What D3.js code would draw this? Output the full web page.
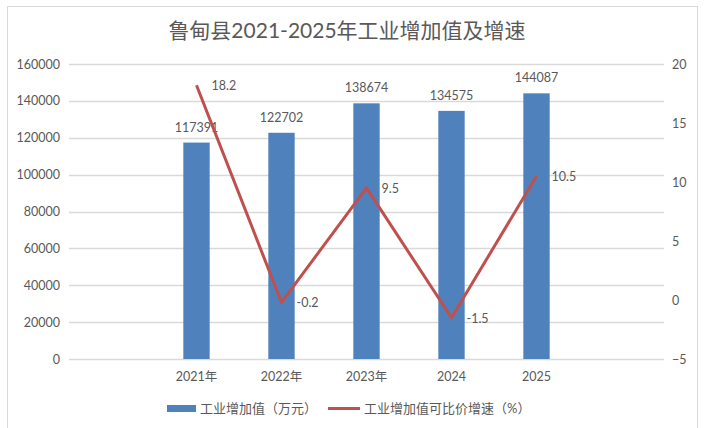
<!DOCTYPE html>
<html>
<head>
<meta charset="utf-8">
<script src="https://cdn.jsdelivr.net/npm/d3@7"></script>
<style>
  body { margin: 0; background: #fff; }
  text { font-family: Lato, "Noto Sans CJK SC", sans-serif; fill: #595959; }
</style>
</head>
<body>
<div id="chart"></div>
<script>
// Data
const years = ["2021年", "2022年", "2023年", "2024", "2025"];
const addedValue = [117391, 122702, 138674, 134575, 144087];
const growthRate = [18.2, -0.2, 9.5, -1.5, 10.5];
const leftTicks = [0, 20000, 40000, 60000, 80000, 100000, 120000, 140000, 160000];
const rightTicks = [-5, 0, 5, 10, 15, 20];

const W = 713, H = 428;
const plot = { left: 69, right: 664, top: 64, bottom: 359 };
const barColor = "#4F81BD", lineColor = "#C0504D";

const svg = d3.select("#chart").append("svg")
    .attr("width", W)
    .attr("height", H);

// Outer chart border
svg.append("rect")
    .attr("x", 7.5).attr("y", 6.5)
    .attr("width", 690).attr("height", 430)
    .attr("fill", "#fff")
    .attr("stroke", "#d9d9d9");

// Title
svg.append("text")
    .attr("x", 347)
    .attr("y", 38)
    .attr("text-anchor", "middle")
    .style("font-size", "21px")
    .text("鲁甸县2021-2025年工业增加值及增速");

// Scales: 7 slots, first and last are empty
const slot = (plot.right - plot.left) / 7;
const x = d3.scaleBand()
    .domain(years)
    .range([plot.left + slot, plot.right - slot])
    .paddingInner(0.69)
    .paddingOuter(0.345);

const yL = d3.scaleLinear().domain([0, 160000]).range([plot.bottom, plot.top]);
const yR = d3.scaleLinear().domain([-5, 20]).range([plot.bottom, plot.top]);

// Gridlines
svg.append("g")
    .selectAll("line")
    .data(leftTicks)
    .join("line")
    .attr("x1", plot.left).attr("x2", plot.right)
    .attr("y1", d => Math.round(yL(d)) + 0.5)
    .attr("y2", d => Math.round(yL(d)) + 0.5)
    .attr("stroke", "#d9d9d9")
    .attr("stroke-width", 1.3);

// Left axis
const leftAxis = svg.append("g")
    .attr("transform", `translate(${plot.left - 9},0)`)
    .call(d3.axisLeft(yL).tickValues(leftTicks).tickFormat(d3.format("d")).tickSize(0).tickPadding(0));
leftAxis.select(".domain").remove();
leftAxis.selectAll("text").style("font-size", "12.5px").style("fill", "#595959");

// Right axis
const rightAxis = svg.append("g")
    .attr("transform", `translate(${plot.right + 8},0)`)
    .call(d3.axisRight(yR).tickValues(rightTicks).tickFormat(d3.format("d")).tickSize(0).tickPadding(0));
rightAxis.select(".domain").remove();
rightAxis.selectAll("text").style("font-size", "12.5px").style("fill", "#595959");

// Bars
svg.append("g")
    .selectAll("rect")
    .data(addedValue)
    .join("rect")
    .attr("x", (d, i) => x(years[i]))
    .attr("y", d => yL(d))
    .attr("width", x.bandwidth())
    .attr("height", d => yL(0) - yL(d))
    .attr("fill", barColor);

// Bar labels
svg.append("g")
    .selectAll("text")
    .data(addedValue)
    .join("text")
    .attr("x", (d, i) => x(years[i]) + x.bandwidth() / 2)
    .attr("y", d => yL(d) - 11)
    .attr("text-anchor", "middle")
    .style("font-size", "12.5px")
    .text(d => d);

// Category labels
svg.append("g")
    .selectAll("text")
    .data(years)
    .join("text")
    .attr("x", d => x(d) + x.bandwidth() / 2)
    .attr("y", plot.bottom + 22)
    .attr("text-anchor", "middle")
    .style("font-size", "12.5px")
    .text(d => d);

// Growth line
const line = d3.line()
    .x((d, i) => x(years[i]) + x.bandwidth() / 2)
    .y(d => yR(d));

svg.append("path")
    .datum(growthRate)
    .attr("d", line)
    .attr("fill", "none")
    .attr("stroke", lineColor)
    .attr("stroke-width", 3)
    .attr("stroke-linejoin", "round");

// Line labels
svg.append("g")
    .selectAll("text")
    .data(growthRate)
    .join("text")
    .attr("x", (d, i) => x(years[i]) + x.bandwidth() / 2 + 15)
    .attr("y", d => yR(d) + 5)
    .style("font-size", "12.5px")
    .text(d => d);

// Legend
const legend = svg.append("g");
legend.append("rect")
    .attr("x", 167).attr("y", 405)
    .attr("width", 29).attr("height", 7)
    .attr("fill", barColor);
legend.append("text")
    .attr("x", 200).attr("y", 413)
    .style("font-size", "13px")
    .text("工业增加值（万元）");
legend.append("line")
    .attr("x1", 328).attr("x2", 360)
    .attr("y1", 408.5).attr("y2", 408.5)
    .attr("stroke", lineColor)
    .attr("stroke-width", 3);
legend.append("text")
    .attr("x", 364).attr("y", 413)
    .style("font-size", "13px")
    .text("工业增加值可比价增速（%）");
</script>
</body>
</html>
